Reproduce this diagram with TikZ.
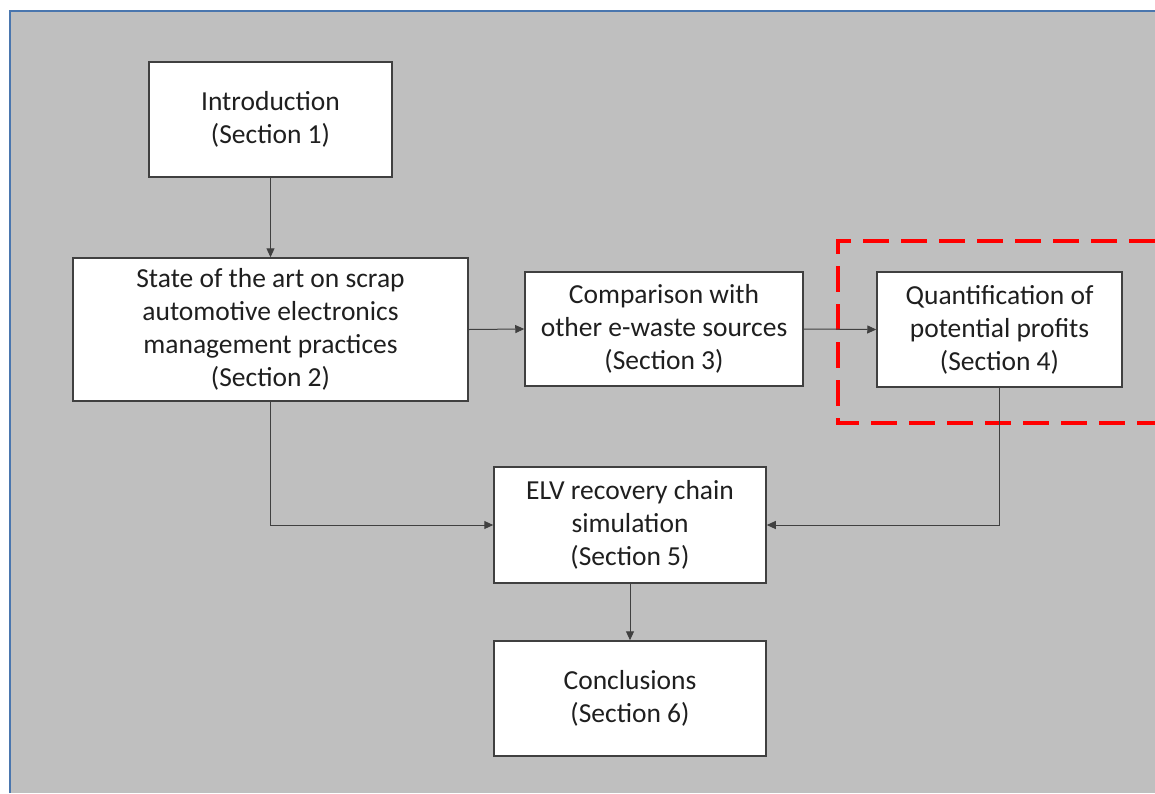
\documentclass[tikz,border=0pt]{standalone}
\usepackage{fontspec}
\setmainfont{Carlito}
\usetikzlibrary{arrows.meta}
\definecolor{bg}{HTML}{BFBFBF}
\definecolor{edge}{HTML}{404040}
\definecolor{frameblue}{HTML}{4A76AE}
\tikzset{
  box/.style={draw=edge, line width=1.5pt, fill=white, inner sep=0pt, align=center,
    font=\fontsize{27.5}{33}\selectfont, text=black!88},
  conn/.style={draw=edge, line width=1pt, -{Triangle[length=9pt,width=8pt]}},
}
\begin{document}
\begin{tikzpicture}[x=1pt,y=-1pt]
\useasboundingbox (0,0) rectangle (1155,793);
\fill[white] (0,0) rectangle (1155,793);
\fill[bg] (11,12) rectangle (1155,793);
\draw[frameblue, line width=2pt] (10,793) -- (10,11) -- (1155,11);
% dashed highlight
\draw[red, line width=3.5pt, dash pattern=on 26pt off 12pt] (1155,241) -- (838,241) -- (838,423) -- (1155,423);
% nodes
\node[box, minimum width=243pt, minimum height=115pt] (intro) at (270.5,119.5) {Introduction\\(Section 1)};
\node[box, minimum width=395pt, minimum height=143pt] (state) at (270.5,329.5) {State of the art on scrap\\automotive electronics\\management practices\\(Section 2)};
\node[box, minimum width=278pt, minimum height=114pt] (comp) at (664,329) {Comparison with\\other e-waste sources\\(Section 3)};
\node[box, minimum width=245pt, minimum height=115pt] (quant) at (999.5,329.5) {Quantification of\\potential profits\\(Section 4)};
\node[box, minimum width=272pt, minimum height=116pt] (elv) at (630,525) {ELV recovery chain\\simulation\\(Section 5)};
\node[box, minimum width=272pt, minimum height=115pt] (conc) at (630,698.5) {Conclusions\\(Section 6)};
% connectors
\draw[conn] (intro) -- (state);
\draw[conn] (state.east) -- (comp.west);
\draw[conn] (comp.east) -- (quant.west);
\draw[conn] (state.south) |- (elv.west);
\draw[conn] (quant.south) |- (elv.east);
\draw[conn] (elv) -- (conc);
\end{tikzpicture}
\end{document}
